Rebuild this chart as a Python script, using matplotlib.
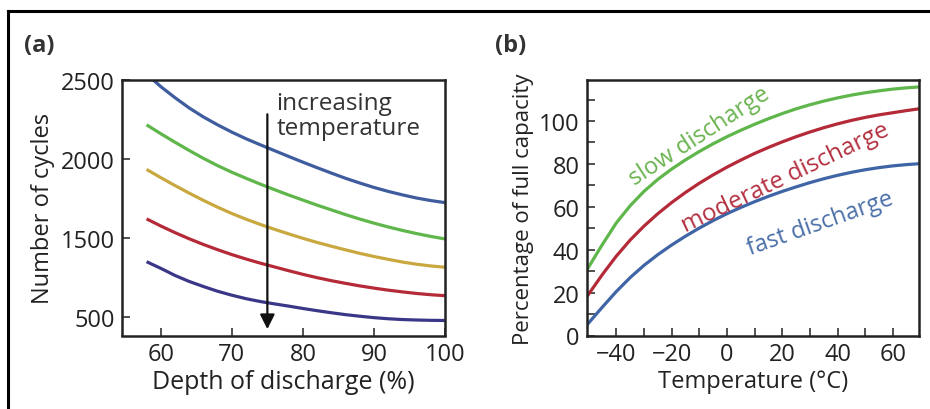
import matplotlib
matplotlib.use("Agg")
import matplotlib.pyplot as plt
from matplotlib.lines import Line2D

plt.rcParams['font.family'] = ['Open Sans', 'DejaVu Sans']

# ---------------- data: panel (a) ----------------
dod = [58, 60, 62, 64, 66, 68, 70, 72, 74, 76, 78, 80, 82, 84, 86, 88, 90, 92, 94, 96, 98, 100]
cycles_t1 = [2540, 2460, 2390, 2325, 2268, 2218, 2172, 2130, 2092, 2055, 2018,
             1982, 1947, 1913, 1880, 1850, 1822, 1797, 1775, 1755, 1739, 1726]
cycles_t2 = [2218, 2162, 2108, 2056, 2006, 1960, 1918, 1880, 1843, 1808, 1774,
             1742, 1710, 1680, 1650, 1622, 1596, 1572, 1550, 1530, 1512, 1496]
cycles_t3 = [1936, 1884, 1834, 1786, 1740, 1697, 1657, 1621, 1588, 1557, 1528,
             1500, 1474, 1450, 1427, 1405, 1385, 1367, 1350, 1336, 1325, 1317]
cycles_t4 = [1623, 1578, 1536, 1497, 1461, 1428, 1397, 1369, 1343, 1319, 1295,
             1272, 1251, 1232, 1215, 1199, 1185, 1172, 1161, 1151, 1143, 1137]
cycles_t5 = [1352, 1310, 1265, 1227, 1195, 1165, 1140, 1118, 1100, 1085, 1071,
             1056, 1042, 1029, 1017, 1007, 998, 991, 986, 983, 981, 980]
colors_a = ['#3f5c9e', '#5fb64a', '#c9a840', '#b52a38', '#3b3788']
a_xticks = [60, 70, 80, 90, 100]
a_yticks = [1000, 1500, 2000, 2500]
a_yticklabels = ['500', '1500', '2000', '2500']

# ---------------- data: panel (b) ----------------
temp = [-50.7, -45, -40, -35, -30, -25, -20, -15, -10, -5, 0, 5, 10, 15, 20,
        25, 30, 35, 40, 45, 50, 55, 60, 65, 69.4]
slow = [30.5, 42.5, 52.5, 60.5, 67.2, 72.8, 77.6, 81.9, 85.8, 89.4, 92.7, 95.7,
        98.5, 101.1, 103.5, 105.7, 107.6, 109.3, 110.8, 112.1, 113.2, 114.1,
        114.9, 115.5, 115.9]
moderate = [18.0, 28.5, 37.0, 44.5, 51.0, 56.8, 62.0, 66.7, 71.0, 74.9, 78.5,
            81.8, 84.9, 87.7, 90.3, 92.7, 94.9, 96.9, 98.7, 100.3, 101.7, 102.9,
            103.9, 104.9, 105.7]
fast = [4.8, 13.3, 20.5, 27.0, 32.7, 37.7, 42.2, 46.3, 50.1, 53.6, 56.8, 59.7,
        62.4, 64.9, 67.2, 69.3, 71.3, 73.1, 74.7, 76.1, 77.3, 78.3, 79.1, 79.7, 80.1]
colors_b = ['#5fb64a', '#b52a38', '#3f65a6']
b_xticks = [-40, -20, 0, 20, 40, 60]
b_xminor = [-30, -10, 10, 30, 50]
b_yticks = [0, 20, 40, 60, 80, 100]
b_yminor = [10, 30, 50, 70, 90, 110]

fig = plt.figure(figsize=(9.3, 4.1), dpi=100)
W, H = 930, 410

def axes_px(l, t, r, b):
    return fig.add_axes([l / W, 1 - b / H, (r - l) / W, (b - t) / H])

txt = '#222222'
fs = 17

# ---------- panel (a) ----------
ax1 = axes_px(121.7, 81.3, 445, 336.5)
for ys, c in zip([cycles_t1, cycles_t2, cycles_t3, cycles_t4, cycles_t5], colors_a):
    ax1.plot(dod, ys, color=c, lw=2.3, solid_capstyle='butt')
ax1.set_xlim(54.5, 100)
ax1.set_ylim(885, 2500)
ax1.set_xticks(a_xticks)
ax1.set_yticks(a_yticks)
ax1.set_yticklabels(a_yticklabels)
ax1.set_xlabel('Depth of discharge (%)', fontsize=18, color=txt, labelpad=2)
ax1.set_ylabel('Number of cycles', fontsize=fs, color=txt, labelpad=4)
ax1.annotate('', xy=(75, 925), xytext=(75, 2285),
             arrowprops=dict(arrowstyle='-|>', lw=1.6, color='#111111',
                             mutation_scale=22, shrinkA=0, shrinkB=0))
ax1.text(76.3, 2430, 'increasing\ntemperature', fontsize=17.5, color='#333333',
         va='top', ha='left', linespacing=1.05)

# ---------- panel (b) ----------
ax2 = axes_px(586.7, 81.3, 919, 336.5)
for ys, c in zip([slow, moderate, fast], colors_b):
    ax2.plot(temp, ys, color=c, lw=2.3)
ax2.set_xlim(-50.7, 69.4)
ax2.set_ylim(0, 119)
ax2.set_xticks(b_xticks)
ax2.set_xticks(b_xminor, minor=True)
ax2.set_yticks(b_yticks)
ax2.set_yticks(b_yminor, minor=True)
ax2.set_xlabel('Temperature (°C)', fontsize=fs, color=txt, labelpad=2)
ax2.set_ylabel('Percentage of full capacity', fontsize=16, color=txt, labelpad=4)
ax2.text(-9.8, 93.0, 'slow discharge', color='#6ab34f', fontsize=fs,
         rotation=33, ha='center', va='center', rotation_mode='anchor')
ax2.text(21.2, 73.6, 'moderate discharge', color='#b33040', fontsize=17.5,
         rotation=25.5, ha='center', va='center', rotation_mode='anchor')
ax2.text(33.6, 52.6, 'fast discharge', color='#4a6fa8', fontsize=fs,
         rotation=19.5, ha='center', va='center', rotation_mode='anchor')

for ax in (ax1, ax2):
    for s in ax.spines.values():
        s.set_linewidth(1.8)
        s.set_color('#222222')
    ax.tick_params(which='both', direction='in', length=6, width=1.1,
                   labelsize=fs, labelcolor=txt, color='#222222', pad=5)

fig.text(24 / W, 1 - 46 / H, '(a)', fontsize=fs, fontweight='bold',
         color='#333333', va='center', ha='left')
fig.text(495 / W, 1 - 46 / H, '(b)', fontsize=fs, fontweight='bold',
         color='#333333', va='center', ha='left')

# outer frame (only left and top edges visible in the crop)
fig.add_artist(Line2D([8 / W, 8 / W], [-0.05, 1 - 12 / H], color='black', lw=2.2,
                      transform=fig.transFigure))
fig.add_artist(Line2D([8 / W, 1.05], [1 - 12 / H, 1 - 12 / H], color='black', lw=2.2,
                      transform=fig.transFigure))

fig.savefig('out.png', dpi=100)
